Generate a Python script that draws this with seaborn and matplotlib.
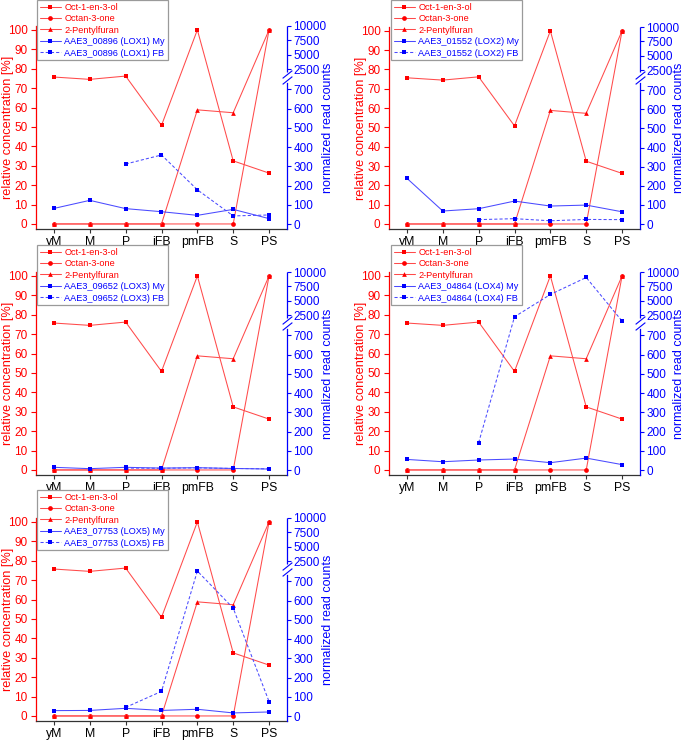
import numpy as np
import matplotlib
matplotlib.use("Agg")
import matplotlib.pyplot as plt
import seaborn as sns

stages = ["yM", "M", "P", "iFB", "pmFB", "S", "PS"]

# volatiles, relative concentration [%]
oct1en3ol = [75.7, 74.5, 76.2, 50.8, 100, 32.5, 26.2]
octan3one = [0, 0, 0, 0, 0, 0, 100]
pentylfuran = [0, 0, 0, 0, 58.8, 57.3, 100]

# LOX genes, normalized read counts (My = mycelium, FB = fruiting body)
lox_names = ["AAE3_00896 (LOX1)", "AAE3_01552 (LOX2)", "AAE3_09652 (LOX3)",
             "AAE3_04864 (LOX4)", "AAE3_07753 (LOX5)"]
lox_my = [
    [81, 123, 80, 64, 45, 76, 28],
    [239, 68, 80, 120, 94, 99, 64],
    [14, 7, 14, 10, 12, 8, 5],
    [55, 43, 52, 57, 38, 62, 28],
    [28, 29, 40, 29, 35, 16, 21],
]
lox_fb = [
    [np.nan, np.nan, 312, 359, 178, 42, 47],
    [np.nan, np.nan, 23, 28, 17, 24, 23],
    [np.nan, np.nan, 10, 9, 11, 8, 6],
    [np.nan, np.nan, 142, 2230, 6100, 9050, 1490],
    [np.nan, np.nan, 45, 128, 850, 561, 75],
]

left_ticks = list(range(0, 101, 10))
right_ticks = [0, 100, 200, 300, 400, 500, 600, 700, 2500, 5000, 7500, 10000]

# panel boxes in pixels (left, top, right, bottom), legend anchors, right label x
W, H = 685, 741
boxes = [(36, 26, 287, 229), (389, 27, 640, 229), (36, 272, 287, 475),
         (389, 272, 640, 475), (36, 518, 287, 721)]
leg_anchor = [(37, 0), (391, 0), (37, 245), (391, 245), (37, 490)]
rlabel_x = [1.138, 1.132, 1.138, 1.132, 1.138]

RED = "#ff0000"
RED_LINE = "#ff4a4a"
BLUE = "#0000ff"
BLUE_LINE = "#4a4aff"


# broken right axis: 0-750 linear, 1000-10000 compressed
def fwd(v):
    v = np.asarray(v, float)
    return np.where(v <= 750, v, np.where(v <= 1000, 750 + (v - 750) * 0.04,
                                          760 + (v - 1000) * 0.03))


def inv(f):
    f = np.asarray(f, float)
    return np.where(f <= 750, f, np.where(f <= 760, 750 + (f - 750) / 0.04,
                                          1000 + (f - 760) / 0.03))


sns.set_style("ticks")
plt.rcParams["font.family"] = ["Liberation Sans", "DejaVu Sans"]
plt.rcParams["axes.linewidth"] = 0.9

fig = plt.figure(figsize=(W / 100, H / 100), dpi=100)
x = np.arange(len(stages))
mk = dict(markersize=3.4, markeredgewidth=0, linewidth=0.75)

for i in range(5):
    l, t, r, b = boxes[i]
    ax = fig.add_axes([l / W, 1 - b / H, (r - l) / W, (b - t) / H])
    ax2 = ax.twinx()
    ax2.set_yscale("function", functions=(fwd, inv))

    # volatiles on the left axis
    sns.lineplot(x=x, y=oct1en3ol, ax=ax, color=RED_LINE, marker="s",
                 markerfacecolor=RED, label="Oct-1-en-3-ol", **mk)
    sns.lineplot(x=x, y=octan3one, ax=ax, color=RED_LINE, marker="o",
                 markerfacecolor=RED, label="Octan-3-one", **mk)
    sns.lineplot(x=x, y=pentylfuran, ax=ax, color=RED_LINE, marker="^",
                 markerfacecolor=RED, label="2-Pentylfuran", **mk)

    # read counts on the right axis
    sns.lineplot(x=x, y=lox_my[i], ax=ax2, color=BLUE_LINE, marker="s",
                 markerfacecolor=BLUE, label=lox_names[i] + " My", **mk)
    sns.lineplot(x=x, y=lox_fb[i], ax=ax2, color=BLUE_LINE, marker="s",
                 markerfacecolor=BLUE, linestyle=(0, (3, 2)),
                 label=lox_names[i] + " FB", **mk)

    ax.set_xlim(-0.5, 6.5)
    ax.set_ylim(-2.6, 102)
    ax2.set_ylim(-26, 10000)
    ax.set_xticks(x)
    ax.set_xticklabels(stages, fontsize=8.8)
    ax.set_yticks(left_ticks)
    ax.set_yticklabels([str(v) for v in left_ticks], fontsize=8.5, color=RED)
    ax2.set_yticks(right_ticks)
    ax2.set_yticklabels([str(v) for v in right_ticks], fontsize=8.5, color=BLUE)
    ax2.minorticks_off()

    ax.set_ylabel("relative concentration [%]", color=RED, fontsize=9.2)
    ax2.set_ylabel("normalized read counts", color=BLUE, fontsize=9.0)
    ax.yaxis.set_label_coords(-0.086, 0.5)
    ax2.yaxis.set_label_coords(rlabel_x[i], 0.5)

    ax.tick_params(axis="y", colors=RED, length=3.3, width=0.8, pad=2.8,
                   labelcolor=RED)
    ax.tick_params(axis="x", length=3, width=0.8, pad=1.8, colors="#333333",
                   labelcolor="black")
    ax2.tick_params(axis="y", colors=BLUE, length=3.2, width=0.8, pad=1.5,
                    labelcolor=BLUE)

    for a in (ax, ax2):
        a.spines["top"].set_visible(False)
    ax.spines["left"].set_color(RED)
    ax.spines["right"].set_visible(False)
    ax2.spines["left"].set_visible(False)
    ax2.spines["bottom"].set_visible(False)
    ax.spines["bottom"].set_color("#333333")
    ax2.spines["right"].set_color(BLUE)
    ax2.spines["right"].set_bounds(-26, 735)

    # upper part of the broken spine and the break marks
    yt = ax2.get_yaxis_transform()
    ax2.plot([1, 1], [2100, 10000], transform=yt, color=BLUE, lw=0.9,
             clip_on=False, solid_capstyle="butt")
    ax2.plot([1, 1], [760, 1700], transform=yt, color=BLUE, ls="none",
             marker=[(-1, -0.8), (1, 0.8)], markersize=7, mew=0.8, clip_on=False)

    # combined legend
    h1, l1 = ax.get_legend_handles_labels()
    h2, l2 = ax2.get_legend_handles_labels()
    ax.get_legend().remove()
    ax2.get_legend().remove()
    lx, ly = leg_anchor[i]
    leg = ax2.legend(h1 + h2, l1 + l2, loc="upper left",
                     bbox_to_anchor=(lx / W, 1 - ly / H), bbox_transform=fig.transFigure,
                     fontsize=6.6, frameon=True, fancybox=False, framealpha=1,
                     edgecolor="#9a9a9a", borderpad=0.3, labelspacing=0.27,
                     handlelength=2.3, handletextpad=0.4, borderaxespad=0)
    leg.get_frame().set_linewidth(0.9)
    for txt, col in zip(leg.get_texts(), [RED] * 3 + [BLUE] * 2):
        txt.set_color(col)

fig.savefig("out.png", dpi=100)
